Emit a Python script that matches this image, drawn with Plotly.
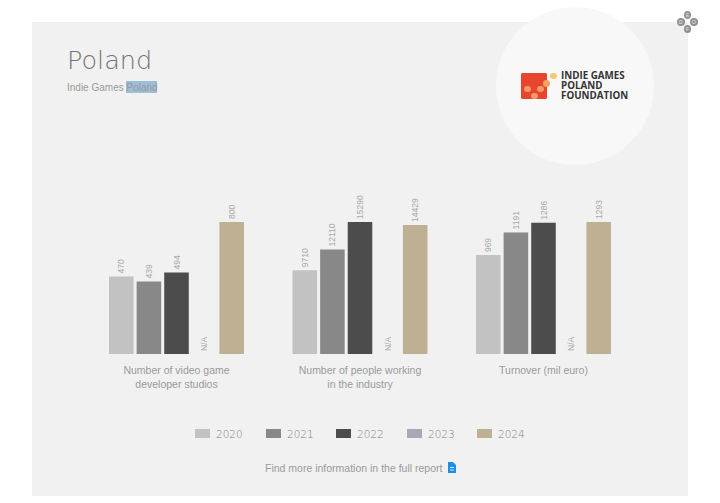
import plotly.graph_objects as go

years = ["2020", "2021", "2022", "2023", "2024"]
colors = ["#c2c2c2", "#888888", "#4c4c4c", "#a9a8b6", "#bfb094"]

studios = [470, 439, 494, None, 800]
people = [9710, 12110, 15290, None, 14950]
turnover = [969, 1191, 1286, None, 1293]

studios_text = ["470", "439", "494", "N/A", "800"]
people_text = ["9710", "12110", "15290", "N/A", "14429"]
turnover_text = ["969", "1191", "1286", "N/A", "1293"]

metrics = ["Number of video game<br>developer studios",
           "Number of people working<br>in the industry",
           "Turnover (mil euro)"]
series = [studios, people, turnover]
series_text = [studios_text, people_text, turnover_text]

W, H = 720, 503
GREY = "#9a9a9a"
BODY = "Liberation Sans"
WIDE = "DejaVu Sans"


# pixel helpers, the page was measured in pixels from the top left
def px_x(v):
    return v / W


def px_y(v):
    return 1 - v / H


def rect(x0, y0, x1, y1, color, kind="rect"):
    return dict(type=kind, xref="paper", yref="paper", x0=px_x(x0), x1=px_x(x1),
                y0=px_y(y1), y1=px_y(y0), fillcolor=color, line_width=0, layer="below")


def poly(points, color):
    d = "M " + " L ".join(f"{px_x(x):.5f},{px_y(y):.5f}" for x, y in points) + " Z"
    return dict(type="path", xref="paper", yref="paper", path=d, fillcolor=color,
                line_width=0, layer="below")


def label(x, y, text, size, color=GREY, family=BODY, anchor="left", weight=None, height=None):
    font = dict(size=size, color=color, family=family)
    if weight:
        font["weight"] = weight
    a = dict(xref="paper", yref="paper", x=px_x(x), y=px_y(y), text=text, showarrow=False,
             xanchor=anchor, yanchor="middle", font=font, borderpad=0)
    if height:
        a["height"] = height
    return a


fig = go.Figure()

domains = [(107.5, 245.5), (291, 429), (474.5, 612.5)]
for i, vals in enumerate(series):
    suffix = "" if i == 0 else str(i + 1)
    fig.add_trace(go.Bar(
        x=years,
        y=[0 if v is None else v for v in vals],
        xaxis="x" + suffix,
        yaxis="y" + suffix,
        marker=dict(color=colors, line_width=0),
        text=series_text[i],
        textposition="outside",
        textangle=-90,
        cliponaxis=False,
        textfont=dict(size=8.5, color="#a8a8a8", family=BODY),
        showlegend=False,
    ))
    fig.update_layout({
        "xaxis" + suffix: dict(
            domain=[px_x(domains[i][0]), px_x(domains[i][1])],
            anchor="y" + suffix,
            type="category",
            showticklabels=False, showgrid=False, zeroline=False, ticks="",
            showline=False,
            title=dict(text=metrics[i], standoff=12, font=dict(size=10.5, color=GREY, family=BODY)),
        ),
        "yaxis" + suffix: dict(
            domain=[px_y(354), px_y(222)],
            anchor="x" + suffix,
            range=[0, max(v for v in vals if v is not None)],
            visible=False,
        ),
    })

shapes = [
    rect(32, 22, 688, 496, "#f1f1f1"),
    rect(496, 7, 654, 165, "#f8f8f8", kind="circle"),
    # subtitle highlight
    rect(126, 81, 157, 93, "#9dbdd8"),
    # logo
    poly([(522, 73), (546, 73), (547, 74), (547, 98), (546, 99), (522, 99), (521, 98), (521, 74)], "#e8452f"),
    rect(543, 80, 550, 87, "#f3a35f", kind="circle"),
    rect(550, 73, 557, 79, "#f6c96f", kind="circle"),
    rect(524, 86, 531, 92, "#f29a6b", kind="circle"),
    rect(537, 86, 544, 92, "#f29a6b", kind="circle"),
    rect(531, 93, 538, 99, "#f29a6b", kind="circle"),
    # corner icon
    rect(684, 11, 691, 19, "#8f8f8f", kind="circle"),
    rect(677, 18, 685, 26, "#8f8f8f", kind="circle"),
    rect(690, 18, 698, 26, "#8f8f8f", kind="circle"),
    rect(684, 25, 691, 33, "#8f8f8f", kind="circle"),
    # report icon
    poly([(448, 462), (453, 462), (456, 465), (456, 473), (448, 473)], "#1f8fe5"),
    rect(450, 467, 454, 468, "#cfe8fb"),
    rect(450, 469.5, 454, 470.5, "#cfe8fb"),
]

annotations = [
    label(65.5, 60, "Poland", 25.5, color="#747474", family=WIDE, weight=200),
    label(66, 87, "Indie Games Poland", 10),
    label(560, 76, "<b>INDIE GAMES</b>", 9.8, color="#333333", family="Open Sans", height=9),
    label(560, 85.7, "<b>POLAND</b>", 9.8, color="#333333", family="Open Sans", height=9),
    label(560, 95.4, "<b>FOUNDATION</b>", 9.8, color="#333333", family="Open Sans", height=9),
    label(687.5, 15, "E", 5, color="#eeeeee", anchor="center"),
    label(681, 22, "D", 5, color="#eeeeee", anchor="center"),
    label(694, 22, "O", 5, color="#eeeeee", anchor="center"),
    label(687.5, 29, "F", 5, color="#eeeeee", anchor="center"),
    label(264, 467.5, "Find more information in the full report", 10.5),
]

# legend
legend_x = [195, 266, 336, 407, 477]
for x, year, color in zip(legend_x, years, colors):
    shapes.append(rect(x, 429, x + 15, 438, color))
    annotations.append(label(x + 20, 433.5, year, 10.5, color="#7d7d7d", family=WIDE, weight=200))

fig.update_layout(
    width=W, height=H,
    margin=dict(l=0, r=0, t=0, b=0),
    paper_bgcolor="#ffffff",
    plot_bgcolor="rgba(0,0,0,0)",
    bargap=0.11,
    shapes=shapes,
    annotations=annotations,
)

fig.write_html("out.html", config={"displayModeBar": False},
               post_script="document.body.style.margin='0';")
